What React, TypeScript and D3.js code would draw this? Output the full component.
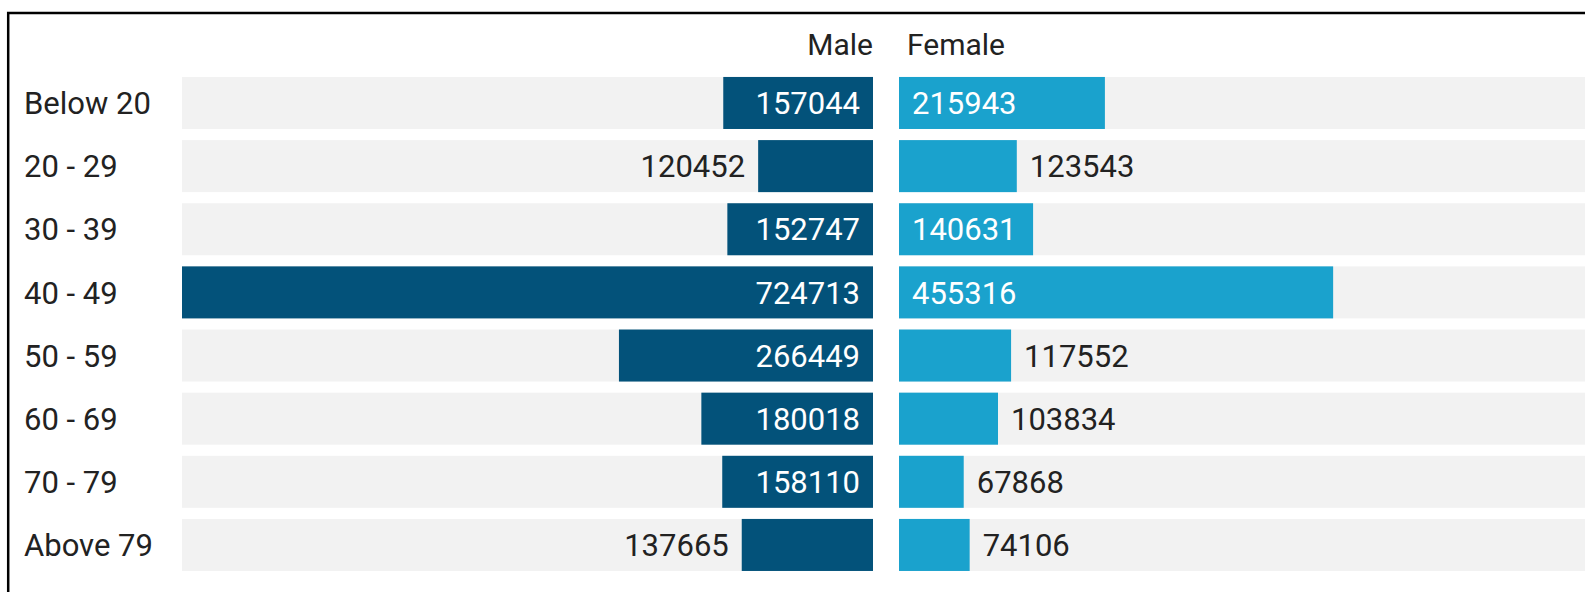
import React from "react";
import * as d3 from "d3";

const categories = ["Below 20", "20 - 29", "30 - 39", "40 - 49", "50 - 59", "60 - 69", "70 - 79", "Above 79"];
const maleValues = [157044, 120452, 152747, 724713, 266449, 180018, 158110, 137665];
const femaleValues = [215943, 123543, 140631, 455316, 117552, 103834, 67868, 74106];
const seriesNames = ["Male", "Female"];

const W = 1585;
const H = 592;
const maleRight = 873;
const femaleLeft = 899;
const barSpan = 691;
const pad = 13;
const insideMin = 133;
const MALE = "#03527A";
const FEMALE = "#1AA2CD";
const BG = "#F2F2F2";
const TEXT = "#222222";
const FONT = "Roboto, 'Noto Sans', sans-serif";

export default function App() {
  const maxVal = d3.max(maleValues.concat(femaleValues)) as number;
  const x = d3.scaleLinear().domain([0, maxVal]).range([0, barSpan]);
  const y = d3
    .scaleBand<string>()
    .domain(categories)
    .range([71.4, 71.4 + 8 * 63.14])
    .paddingInner(0.176)
    .paddingOuter(0.088);
  const bw = y.bandwidth();

  return (
    <div style={{ position: "absolute", left: 0, top: 0, width: W, height: H, background: "#fff" }}>
      <svg width={W} height={H} style={{ display: "block" }} fontFamily={FONT}>
        <rect x={8.2} y={13} width={W + 50} height={H + 50} fill="none" stroke="#000" strokeWidth={2.5} />
        <text x={maleRight} y={55} textAnchor="end" fontSize={30} fill={TEXT}>{seriesNames[0]}</text>
        <text x={femaleLeft + 8} y={55} textAnchor="start" fontSize={30} fill={TEXT}>{seriesNames[1]}</text>
        {categories.map((c, i) => {
          const y0 = y(c) as number;
          const mw = x(maleValues[i]);
          const fw = x(femaleValues[i]);
          const mIn = mw >= insideMin;
          const fIn = fw >= insideMin;
          const cy = y0 + bw / 2;
          return (
            <g key={c}>
              <text x={24} y={cy} dy="0.36em" fontSize={31} fill={TEXT}>{c}</text>
              <rect x={maleRight - barSpan} y={y0} width={barSpan} height={bw} fill={BG} />
              <rect x={femaleLeft} y={y0} width={barSpan} height={bw} fill={BG} />
              <rect x={maleRight - mw} y={y0} width={mw} height={bw} fill={MALE} />
              <rect x={femaleLeft} y={y0} width={fw} height={bw} fill={FEMALE} />
              <text
                x={mIn ? maleRight - pad : maleRight - mw - pad}
                y={cy}
                dy="0.36em"
                textAnchor="end"
                fontSize={31}
                fill={mIn ? "#fff" : TEXT}
              >
                {maleValues[i]}
              </text>
              <text
                x={fIn ? femaleLeft + pad : femaleLeft + fw + pad}
                y={cy}
                dy="0.36em"
                textAnchor="start"
                fontSize={31}
                fill={fIn ? "#fff" : TEXT}
              >
                {femaleValues[i]}
              </text>
            </g>
          );
        })}
      </svg>
    </div>
  );
}
